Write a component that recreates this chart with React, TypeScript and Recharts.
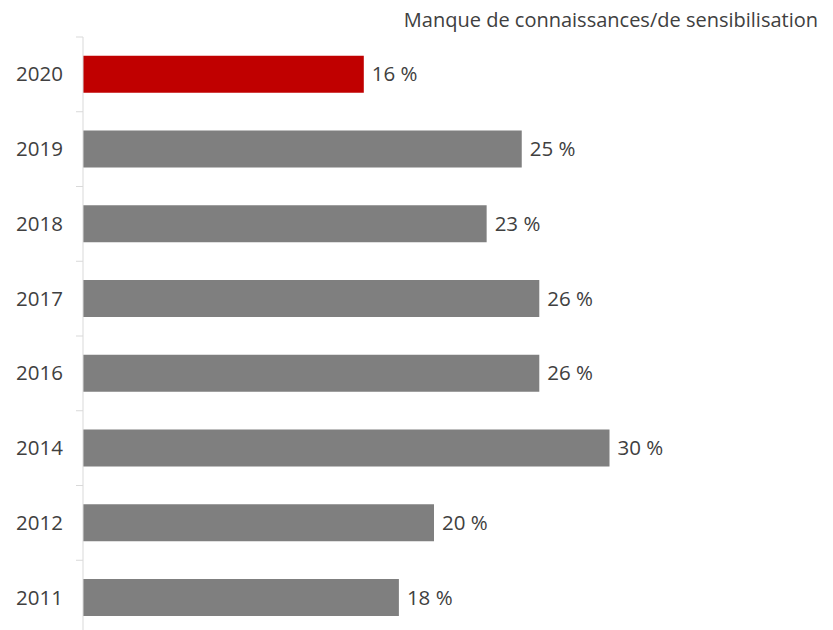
import { BarChart, Bar, XAxis, YAxis, Cell, LabelList } from "recharts";

const years = ["2020", "2019", "2018", "2017", "2016", "2014", "2012", "2011"];
const values = [16, 25, 23, 26, 26, 30, 20, 18];
const highlightYear = "2020";
const title = "Manque de connaissances/de sensibilisation";

const data = years.map((year, i) => ({ year, value: values[i] }));

const FONT = "'Open Sans', sans-serif";
const TEXT = "#404040";
const AXIS = "#d9d9d9";

// tick marks sit between categories, like the spreadsheet original
function YearTick({ x, y, payload, index, visibleTicksCount }: any) {
    const half = payload && payload.offset ? payload.offset : 37;
    const isLast = index === (visibleTicksCount || years.length) - 1;
    return (
        <g>
            <line x1={x - 1} x2={x + 6} y1={y - half} y2={y - half} stroke={AXIS} />
            {isLast && <line x1={x - 1} x2={x + 6} y1={y + half} y2={y + half} stroke={AXIS} />}
            <text x={x - 14} y={y} dy={7} textAnchor="end" fill={TEXT} fontSize={20.5} fontFamily={FONT}>
                {payload.value}
            </text>
        </g>
    );
}

export default function App() {
    return (
        <div style={{ position: "fixed", left: 0, top: 0, width: 833, height: 630, overflow: "hidden", background: "#fff" }}>
            <BarChart
                width={833}
                height={640}
                data={data}
                layout="vertical"
                margin={{ top: 37, right: 48, bottom: 5, left: 0 }}
                barCategoryGap="25%"
            >
                <text x={818} y={27} textAnchor="end" fill={TEXT} fontSize={20} fontFamily={FONT}>
                    {title}
                </text>
                <XAxis type="number" domain={[0, 40]} hide />
                <YAxis
                    type="category"
                    dataKey="year"
                    width={83}
                    axisLine={{ stroke: AXIS }}
                    tickLine={false}
                    tickMargin={0}
                    tick={<YearTick />}
                />
                <Bar dataKey="value" isAnimationActive={false}>
                    {data.map((d) => (
                        <Cell key={d.year} fill={d.year === highlightYear ? "#c00000" : "#7f7f7f"} />
                    ))}
                    <LabelList
                        dataKey="value"
                        position="right"
                        offset={8}
                        formatter={(v: any) => `${v} %`}
                        style={{ fill: TEXT, fontSize: 20.5, fontFamily: FONT }}
                    />
                </Bar>
            </BarChart>
        </div>
    );
}
